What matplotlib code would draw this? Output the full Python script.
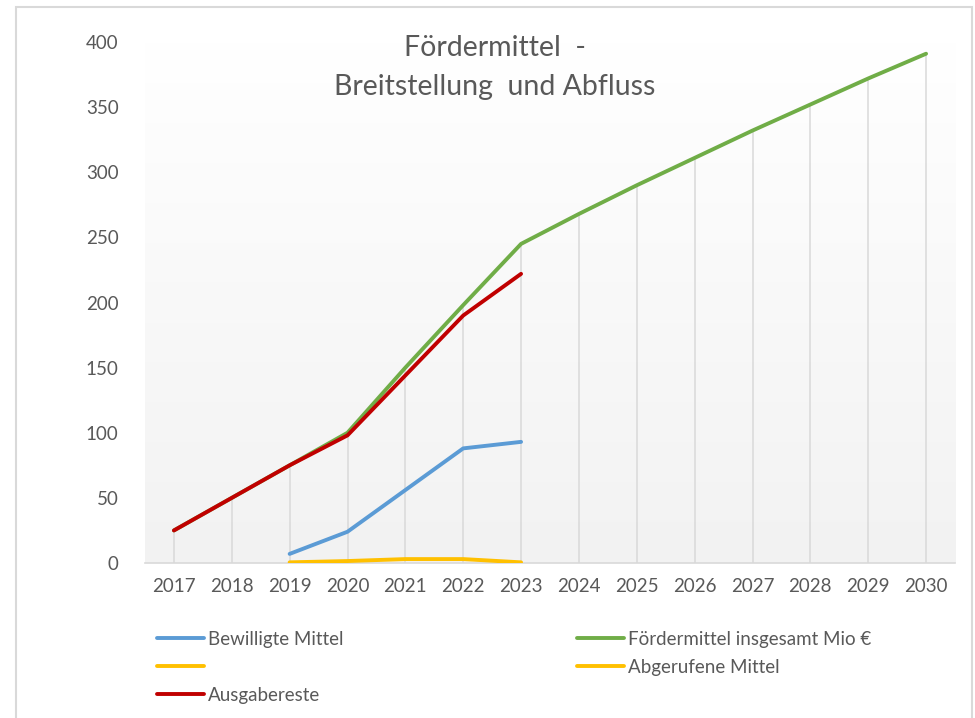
import numpy as np
import matplotlib
matplotlib.use("Agg")
from matplotlib import pyplot as plt
from matplotlib.patches import Rectangle

plt.rcParams['font.family'] = ['Lato', 'DejaVu Sans']

years = np.arange(2017, 2031)

# series values (Mio €)
foerdermittel = [25, 50, 75, 100, 150, 198, 245, 268, 290, 311, 332, 352, 372, 391]
ausgabereste = [25, 50, 75, 98, 144, 190, 222] + [np.nan] * 7
bewilligt = [np.nan, np.nan, 7, 24, 56, 88, 93] + [np.nan] * 7
abgerufen = [np.nan, np.nan, 0.5, 1.5, 3, 3, 0.5] + [np.nan] * 7
leer = [np.nan] * 14

text_col = '#595959'
grid_col = '#D9D9D9'

fig = plt.figure(figsize=(9.75, 7.18), dpi=100)
fig.patch.set_facecolor('white')

# outer chart frame
fig.patches.append(Rectangle((16 / 975, -0.05), (972 - 16) / 975, 1.05 - 7 / 718,
                             transform=fig.transFigure, fill=False,
                             edgecolor=grid_col, lw=1.5))

ax = fig.add_axes([145 / 975, (718 - 563) / 718, (955 - 145) / 975, (563 - 42) / 718])
ax.set_xlim(2016.5, 2030.5)
ax.set_ylim(0, 400)

# gradient fill of the plot area: white at top, light gray at bottom
grad = np.linspace(1.0, 0.949, 256).reshape(-1, 1)
ax.imshow(np.dstack([grad, grad, grad]), extent=[0, 1, 0, 1], transform=ax.transAxes,
          aspect='auto', zorder=0, origin='upper')

# drop lines from the highest series to the axis
top = np.nanmax(np.vstack([foerdermittel, ausgabereste, bewilligt, abgerufen]), axis=0)
ax.vlines(years, 0, top, colors=grid_col, lw=1.1, zorder=1)

h_bew, = ax.plot(years, bewilligt, color='#5B9BD5', lw=2.8, solid_capstyle='round', zorder=3)
h_foe, = ax.plot(years, foerdermittel, color='#70AD47', lw=2.8, solid_capstyle='round', zorder=3)
h_leer, = ax.plot(years, leer, color='#FFC000', lw=2.8, solid_capstyle='round')
h_abg, = ax.plot(years, abgerufen, color='#FFC000', lw=2.8, solid_capstyle='round', zorder=3)
h_aus, = ax.plot(years, ausgabereste, color='#C00000', lw=2.8, solid_capstyle='round', zorder=4)

for s in ['top', 'right', 'left']:
    ax.spines[s].set_visible(False)
ax.spines['bottom'].set_color(grid_col)
ax.spines['bottom'].set_linewidth(1.2)
ax.spines['bottom'].set_zorder(2)

ax.set_xticks(years)
ax.set_xticklabels([str(y) for y in years])
ax.set_yticks(np.arange(0, 401, 50))
ax.tick_params(axis='both', length=0, labelsize=13.5, labelcolor=text_col)
ax.tick_params(axis='y', pad=19)
ax.tick_params(axis='x', pad=11)

fig.text(495 / 975, 1 - 48 / 718, 'Fördermittel  -', ha='center', va='center',
         fontsize=20.5, color=text_col)
fig.text(495 / 975, 1 - 87 / 718, 'Breitstellung  und Abfluss', ha='center', va='center',
         fontsize=20.5, color=text_col)

leg_kw = dict(frameon=False, fontsize=13.5, handlelength=2.5, handletextpad=0.2,
              labelspacing=0.58, borderaxespad=0, borderpad=0, labelcolor=text_col)
leg1 = fig.legend([h_bew, h_leer, h_aus], ['Bewilligte Mittel', '', 'Ausgabereste'],
                  loc='upper left', bbox_to_anchor=(157 / 975, 1 - 631 / 718), **leg_kw)
leg2 = fig.legend([h_foe, h_abg], ['Fördermittel insgesamt Mio €', 'Abgerufene Mittel'],
                  loc='upper left', bbox_to_anchor=(577 / 975, 1 - 631 / 718), **leg_kw)

fig.savefig('out.png', dpi=100)
